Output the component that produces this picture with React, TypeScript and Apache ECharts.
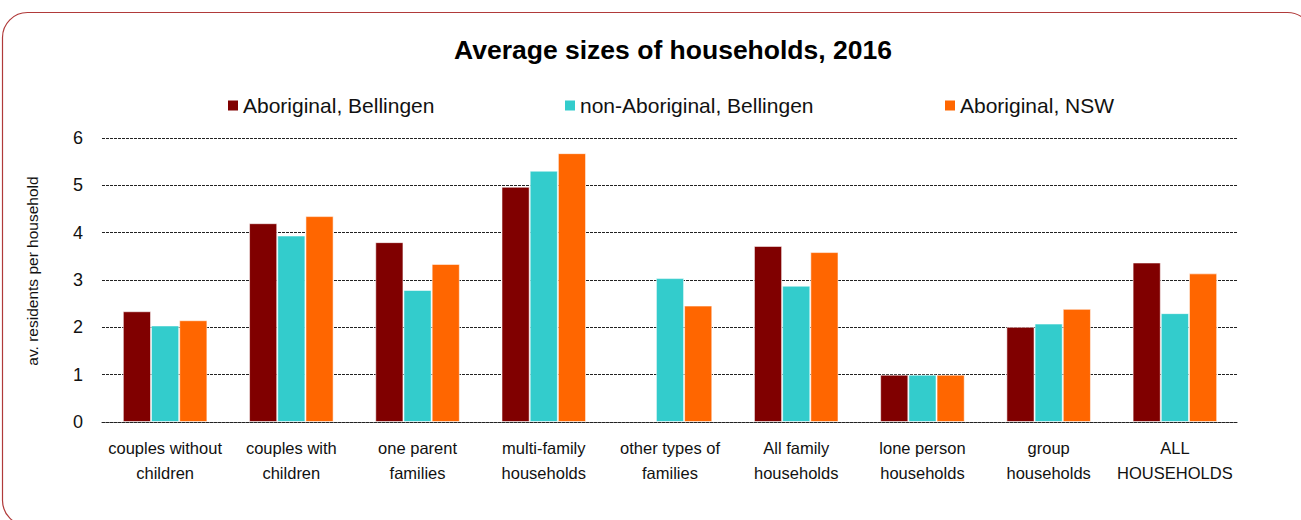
import React, { useEffect, useRef } from "react";
import * as echarts from "echarts";

const categories = [
  "couples without\nchildren",
  "couples with\nchildren",
  "one parent\nfamilies",
  "multi-family\nhouseholds",
  "other types of\nfamilies",
  "All family\nhouseholds",
  "lone person\nhouseholds",
  "group\nhouseholds",
  "ALL\nHOUSEHOLDS",
];

const aboriginalBellingen = [2.34, 4.2, 3.8, 4.97, null, 3.72, 1.0, 2.01, 3.37];
const nonAboriginalBellingen = [2.04, 3.94, 2.79, 5.31, 3.04, 2.88, 1.0, 2.08, 2.3];
const aboriginalNSW = [2.15, 4.35, 3.34, 5.68, 2.46, 3.59, 1.0, 2.39, 3.14];

const seriesNames = ["Aboriginal, Bellingen", "non-Aboriginal, Bellingen", "Aboriginal, NSW"];
const seriesColors = ["#800000", "#33CCCC", "#FF6600"];
const yTicks = [0, 1, 2, 3, 4, 5, 6];

const regular = "'Liberation Sans', Arial, sans-serif";

export default function App() {
  const ref = useRef<HTMLDivElement>(null);
  useEffect(() => {
    document.body.style.margin = "0";
    if (!ref.current) return;
    const chart = echarts.init(ref.current, null, { renderer: "svg" });
    const gridLine = { color: "#222222", width: 1, type: [3, 1] as number[] };
    const data = [aboriginalBellingen, nonAboriginalBellingen, aboriginalNSW];
    const legendLefts = [223, 560, 940];
    chart.setOption({
      animation: false,
      backgroundColor: "#ffffff",
      title: {
        text: "Average sizes of households, 2016",
        left: 668,
        textAlign: "center",
        top: 31,
        textStyle: { fontFamily: regular, fontSize: 26.5, fontWeight: "bold", color: "#000" },
      },
      legend: seriesNames.map((n, i) => ({
        data: [n],
        left: legendLefts[i],
        top: 90,
        icon: "rect",
        itemWidth: 10,
        itemHeight: 10,
        itemStyle: { borderWidth: 0 },
        textStyle: { fontFamily: regular, fontSize: 21, color: "#111" },
      })),
      grid: { left: 102, right: 63, top: 138, bottom: 98 },
      xAxis: {
        type: "category",
        data: categories,
        axisLine: { show: true, lineStyle: gridLine },
        axisTick: { show: false },
        axisLabel: {
          interval: 0,
          margin: 13,
          fontFamily: regular,
          fontSize: 16.5,
          lineHeight: 25,
          color: "#111",
        },
      },
      yAxis: {
        type: "value",
        min: yTicks[0],
        max: yTicks[yTicks.length - 1],
        interval: 1,
        name: "av. residents per household",
        nameLocation: "middle",
        nameGap: 62,
        nameTextStyle: { fontFamily: regular, fontSize: 15.5, color: "#111", padding: [0, 0, 0, 18] },
        axisLine: { show: false },
        axisTick: { show: false },
        axisLabel: { margin: 19, fontFamily: regular, fontSize: 18, color: "#111" },
        splitLine: { show: true, lineStyle: gridLine },
      },
      series: seriesNames.map((n, i) => ({
        type: "bar",
        name: n,
        data: data[i],
        barGap: "0%",
        barCategoryGap: "33%",
        itemStyle: {
          color: seriesColors[i],
          borderColor: "rgba(255,255,255,0.55)",
          borderWidth: 1,
        },
      })),
      graphic: [
        {
          type: "rect",
          silent: true,
          shape: { x: 2.5, y: 12.5, width: 1310, height: 513, r: 25 },
          style: { fill: "none", stroke: "#B03A3A", lineWidth: 1.2 },
        },
      ],
    });
    return () => chart.dispose();
  }, []);
  return <div ref={ref} style={{ width: 1301, height: 520, position: "absolute", left: 0, top: 0 }} />;
}
